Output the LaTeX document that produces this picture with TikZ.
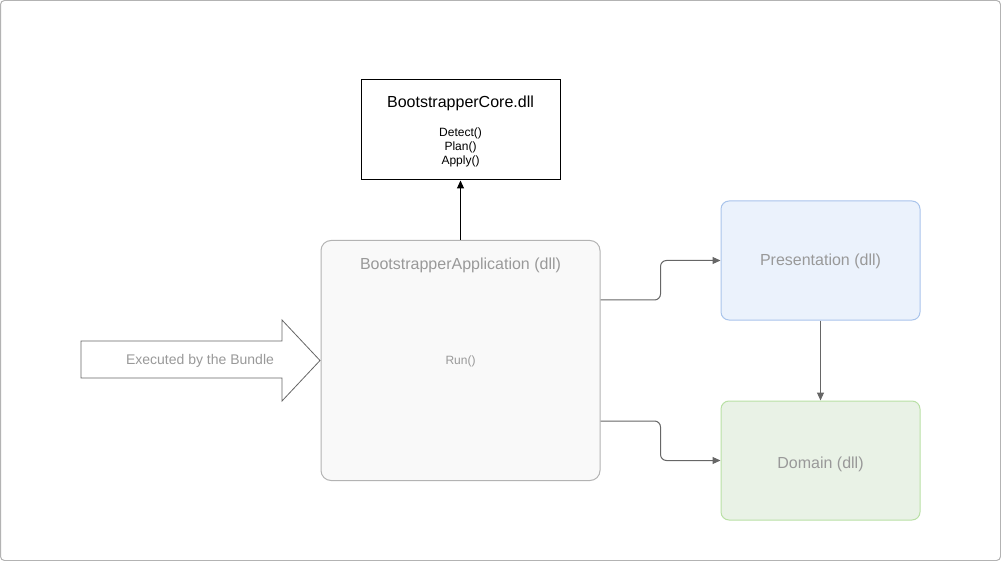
\documentclass[tikz,border=0pt]{standalone}
\usepackage{fontspec}
\setmainfont{Liberation Sans}
\usetikzlibrary{arrows.meta}

\definecolor{appfill}{HTML}{F9F9F9}
\definecolor{appline}{HTML}{B3B3B3}
\definecolor{softtext}{HTML}{999999}
\definecolor{presfill}{HTML}{EBF2FC}
\definecolor{presline}{HTML}{A9C4EB}
\definecolor{domfill}{HTML}{E9F2E6}
\definecolor{domline}{HTML}{B9E0A5}
\definecolor{linkgray}{HTML}{666666}

\begin{document}
\begin{tikzpicture}[
    x=1pt, y=-1pt,
    line width=1pt,
    core box/.style={draw=black, fill=white, minimum width=199pt, minimum height=100pt, inner sep=0pt},
    app box/.style={draw=appline, fill=appfill, rounded corners=10pt, minimum width=279pt, minimum height=240pt, inner sep=0pt},
    layer box/.style={rounded corners=8pt, minimum width=199pt, minimum height=119pt, inner sep=0pt},
    soft label/.style={text=softtext, font=\fontsize{16}{19}\selectfont},
    link/.style={draw=linkgray, rounded corners=6pt, -{Triangle[length=8pt, width=7pt]}},
    every node/.style={color=black}
    ]
    % frame
    \useasboundingbox (0,0) rectangle (1001,561);
    \draw[appline, rounded corners=4pt] (0.5,0.5) rectangle (1000.5,560.5);

    % boxes
    \node[core box] (core) at (460.5,130) {};
    \node[font=\fontsize{16}{19}\selectfont] (coretitle) at (460.5,103) {BootstrapperCore.dll};
    \node[font=\fontsize{12}{14}\selectfont, align=center] (coremethods) at (460.5,147)
        {Detect()\\Plan()\\Apply()};

    \node[app box] (app) at (460.5,360.5) {};
    \node[soft label] (apptitle) at (460.5,265) {BootstrapperApplication (dll)};
    \node[text=softtext, font=\fontsize{12}{14}\selectfont] (run) at (460.5,361) {Run()};

    \node[layer box, draw=presline, fill=presfill] (pres) at (820.5,260.5) {};
    \node[soft label] (prestext) at (820.5,261.5) {Presentation (dll)};
    \node[layer box, draw=domline, fill=domfill] (dom) at (820.5,460.5) {};
    \node[soft label] (domtext) at (820.5,464.5) {Domain (dll)};

    % bundle arrow
    \draw[linkgray, fill=white, line width=0.8pt] (81,341) -- (282,341) -- (282,320) -- (320,360.5)
        -- (282,401) -- (282,378) -- (81,378) -- cycle;
    \node[text=softtext, font=\fontsize{14}{17}\selectfont] (bundle) at (200,361) {Executed by the Bundle};

    % links
    \draw[black, -{Triangle[length=8pt, width=7pt]}] (app.north) -- (core.south);
    \draw[link] ([yshift=-60pt]app.north east) -- ++(60,0) |- (pres.west);
    \draw[link] ([yshift=60pt]app.south east) -- ++(60,0) |- (dom.west);
    \draw[link] (pres.south) -- (dom.north);
\end{tikzpicture}
\end{document}
